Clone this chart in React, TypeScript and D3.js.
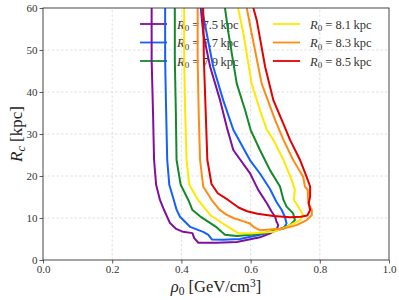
import React, { useEffect, useRef } from 'react';
import * as d3 from 'd3';

// contour traces: [rho0, Rc] from top-left branch, round the bottom, back up the right branch
const r75 = [[0.314,60],[0.314,47.6],[0.318,35],[0.321,23.8],[0.327,17.9],[0.338,14.3],[0.35,11.9],[0.367,8.8],[0.385,7.4],[0.405,6.7],[0.432,6.4],[0.437,5.2],[0.449,4.1],[0.502,4.1],[0.56,4.3],[0.627,5.4],[0.655,6.3],[0.675,7.2],[0.68,8.3],[0.675,9.1],[0.671,10.3],[0.661,11.5],[0.647,13.5],[0.622,16.7],[0.598,20.7],[0.55,26.2],[0.531,31.7],[0.512,38],[0.483,46],[0.463,54],[0.456,60]];
const r77 = [[0.353,60],[0.353,47.6],[0.356,35],[0.359,23.8],[0.365,17.9],[0.378,14.3],[0.386,12],[0.396,10.3],[0.425,7.9],[0.463,6.7],[0.478,6.0],[0.488,4.9],[0.521,4.8],[0.569,5.0],[0.627,6.0],[0.647,6.4],[0.695,7.5],[0.704,8.7],[0.699,10.3],[0.69,11.9],[0.675,13.8],[0.656,16.9],[0.627,20.6],[0.598,23.8],[0.55,31],[0.521,38],[0.492,46],[0.473,54],[0.459,60]];
const r79 = [[0.381,60],[0.381,47.6],[0.384,35],[0.386,23.8],[0.398,17.9],[0.42,14.3],[0.432,11.9],[0.454,10.4],[0.5,7.9],[0.516,6.7],[0.526,6.0],[0.56,5.7],[0.627,6.2],[0.675,7.1],[0.714,8.3],[0.728,9.5],[0.723,11.1],[0.704,12.7],[0.695,14.3],[0.685,17.5],[0.656,21.4],[0.627,26.2],[0.6,31],[0.584,35.7],[0.56,42],[0.536,54],[0.526,60]];
const r81 = [[0.408,60],[0.408,47.6],[0.411,35],[0.415,23.8],[0.423,17.9],[0.448,14.3],[0.472,11.9],[0.485,10.6],[0.52,8.7],[0.55,7.1],[0.564,6.4],[0.598,6.3],[0.666,6.7],[0.704,7.9],[0.743,9.5],[0.752,10.7],[0.738,12.7],[0.725,14.3],[0.728,16.7],[0.719,19],[0.695,23.8],[0.666,28.6],[0.647,31],[0.627,35.7],[0.603,42],[0.579,54],[0.564,60]];
const r83 = [[0.447,60],[0.447,47.6],[0.45,35],[0.454,23.8],[0.463,17.5],[0.49,14],[0.51,12],[0.53,10.8],[0.55,10.0],[0.58,9.2],[0.598,8.7],[0.608,7.9],[0.627,7.1],[0.695,7.5],[0.733,8.3],[0.762,9.5],[0.777,10.7],[0.777,11.9],[0.767,13.5],[0.765,16.7],[0.757,17.5],[0.752,19.8],[0.723,23.8],[0.695,28.6],[0.671,33.3],[0.632,42],[0.603,54],[0.589,60]];
const r85 = [[0.463,60],[0.465,47.6],[0.472,31],[0.475,23.8],[0.487,18.1],[0.505,15.9],[0.535,14.3],[0.565,12.5],[0.59,11.6],[0.62,11.0],[0.666,10.5],[0.714,10.2],[0.745,10.3],[0.764,10.6],[0.772,11.9],[0.768,13.5],[0.772,15.1],[0.772,17.5],[0.762,19.8],[0.743,23.8],[0.714,28.6],[0.697,32],[0.666,38],[0.642,46],[0.618,57],[0.608,60]];

const labels = ['7.5', '7.7', '7.9', '8.1', '8.3', '8.5'];
const colors = ['#800f9f', '#1460ff', '#14892a', '#ffe800', '#ff8c12', '#e50000'];
const series = [r75, r77, r79, r81, r83, r85];
const xTicks = [0, 0.2, 0.4, 0.6, 0.8, 1.0];
const yTicks = [0, 10, 20, 30, 40, 50, 60];

const FONT = '"Liberation Serif", "DejaVu Serif", serif';

export default function App() {
  const ref = useRef<SVGSVGElement>(null);

  useEffect(() => {
    const width = 399, height = 300;
    const m = { left: 43, right: 10, top: 8, bottom: 40 };
    const svg = d3.select(ref.current);
    svg.selectAll('*').remove();

    const x = d3.scaleLinear().domain([0, 1]).range([m.left, width - m.right]);
    const y = d3.scaleLinear().domain([0, 60]).range([height - m.bottom, m.top]);

    svg.append('clipPath').attr('id', 'plotclip')
      .append('rect')
      .attr('x', x(0)).attr('y', y(60))
      .attr('width', x(1) - x(0)).attr('height', y(0) - y(60));

    // grid
    const grid = svg.append('g').attr('stroke', '#d9d9d9').attr('stroke-width', 0.8).attr('stroke-dasharray', '2.5,2');
    grid.selectAll('line.gx').data(xTicks.slice(1, -1)).join('line')
      .attr('x1', d => x(d)).attr('x2', d => x(d)).attr('y1', y(0)).attr('y2', y(60));
    grid.selectAll('line.gy').data(yTicks.slice(1, -1)).join('line')
      .attr('y1', d => y(d)).attr('y2', d => y(d)).attr('x1', x(0)).attr('x2', x(1));

    // axes
    const xAxis = d3.axisBottom(x).tickValues(xTicks).tickFormat(d3.format('.1f')).tickSize(3.5).tickPadding(2);
    const yAxis = d3.axisLeft(y).tickValues(yTicks).tickFormat(d3.format('d')).tickSize(3.5).tickPadding(2);
    const gx = svg.append('g').attr('transform', `translate(0,${y(0)})`).call(xAxis);
    const gy = svg.append('g').attr('transform', `translate(${x(0)},0)`).call(yAxis);
    [gx, gy].forEach(g => {
      g.select('.domain').remove();
      g.selectAll('line').attr('stroke', '#333').attr('stroke-width', 0.8);
      g.selectAll('text').attr('font-family', FONT).attr('font-size', 11).attr('fill', '#333');
    });

    // legend (drawn under the curves)
    const leg = svg.append('g').attr('font-family', FONT).attr('font-size', 12.5).attr('fill', '#333');
    labels.forEach((lab, i) => {
      const col = Math.floor(i / 3), row = i % 3;
      const lx = col === 0 ? 140 : 273;
      const ly = 24 + row * 18.5;
      leg.append('line').attr('x1', lx).attr('x2', lx + 27).attr('y1', ly).attr('y2', ly)
        .attr('stroke', colors[i]).attr('stroke-width', 1.8);
      const t = leg.append('text').attr('x', lx + 37).attr('y', ly + 4.5);
      t.append('tspan').attr('font-style', 'italic').text('R');
      t.append('tspan').attr('font-size', 9).attr('dy', 2.5).text('0');
      t.append('tspan').attr('dy', -2.5).text(` = ${lab}\u2009kpc`);
    });

    // curves
    const line = d3.line<number[]>().x(d => x(d[0])).y(d => y(d[1]));
    svg.append('g').attr('clip-path', 'url(#plotclip)')
      .selectAll('path').data(series).join('path')
      .attr('d', d => line(d))
      .attr('fill', 'none')
      .attr('stroke', (_, i) => colors[i])
      .attr('stroke-width', 2)
      .attr('stroke-linejoin', 'round');

    // frame
    svg.append('rect')
      .attr('x', x(0)).attr('y', y(60))
      .attr('width', x(1) - x(0)).attr('height', y(0) - y(60))
      .attr('fill', 'none').attr('stroke', '#333').attr('stroke-width', 0.9);

    // axis labels
    const xl = svg.append('text').attr('x', (x(0) + x(1)) / 2).attr('y', 292)
      .attr('text-anchor', 'middle').attr('font-family', FONT).attr('font-size', 16.5).attr('fill', '#222');
    xl.append('tspan').attr('font-style', 'italic').text('\u03c1');
    xl.append('tspan').attr('font-size', 11.5).attr('dy', 3).text('0');
    xl.append('tspan').attr('dy', -3).text(' [GeV/cm');
    xl.append('tspan').attr('font-size', 11.5).attr('dy', -5).text('3');
    xl.append('tspan').attr('dy', 5).text(']');

    const yl = svg.append('text').attr('transform', `translate(22,${(y(0) + y(60)) / 2}) rotate(-90)`)
      .attr('text-anchor', 'middle').attr('font-family', FONT).attr('font-size', 17).attr('fill', '#222');
    yl.append('tspan').attr('font-style', 'italic').text('R');
    yl.append('tspan').attr('font-style', 'italic').attr('font-size', 12).attr('dy', 3).text('c');
    yl.append('tspan').attr('dy', -3).text(' [kpc]');
  }, []);

  return <svg ref={ref} width={399} height={300} style={{ position: 'absolute', left: 0, top: 0, background: '#fff' }} />;
}
